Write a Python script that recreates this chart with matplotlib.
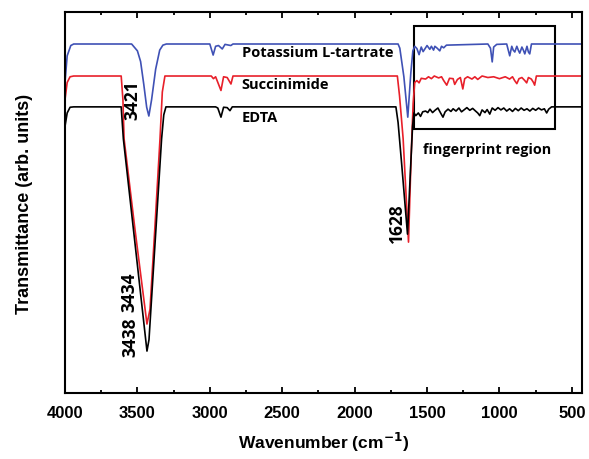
import matplotlib
matplotlib.use("Agg")
import matplotlib.pyplot as plt
from matplotlib.patches import Rectangle
from matplotlib.ticker import MultipleLocator

# スペクトルデータ
blue_wn = [4000, 3985, 3960, 3940, 3540, 3500, 3478, 3456, 3436, 3421, 3402, 3374, 3346, 3324, 3300,
           3000, 2977, 2960, 2940, 2914, 2895, 2855, 2840, 1700, 1688, 1660, 1633, 1612, 1598,
           1585, 1570, 1555, 1540, 1527, 1500, 1481, 1470, 1455, 1446, 1430, 1412, 1400, 1385, 1366,
           1080, 1062, 1050, 1040, 1019, 950, 929, 915, 905, 894, 880, 870, 860, 845, 835, 825,
           810, 800, 791, 779, 430]
blue_t = [81.5, 88.5, 91.2, 91.6, 91.6, 89.8, 87.0, 81.0, 75.0, 72.7, 77.0, 85.0, 90.0, 91.3, 91.6,
          91.6, 88.7, 91.0, 91.2, 90.3, 91.5, 91.2, 91.6, 91.6, 90.5, 83.0, 72.4, 84.0, 89.8,
          91.0, 90.4, 88.8, 90.8, 89.6, 91.2, 90.2, 91.0, 90.0, 91.0, 90.5, 89.8, 91.0, 90.6, 91.3,
          91.6, 90.5, 86.9, 90.8, 91.5, 91.6, 88.5, 91.0, 90.0, 89.5, 91.0, 90.0, 89.2, 90.8, 90.0, 89.0,
          91.0, 89.5, 89.0, 91.6, 91.6]

red_wn = [4000, 3985, 3965, 3940, 3612, 3600, 3592, 3517, 3434, 3413, 3380, 3344, 3328, 3310,
          2990, 2975, 2960, 2923, 2905, 2880, 2854, 2840, 1705, 1690, 1665, 1628, 1610, 1596,
          1585, 1570, 1555, 1540, 1510, 1490, 1470, 1450, 1420, 1400, 1385, 1364, 1345, 1320, 1309,
          1290, 1270, 1253, 1240, 1220, 1190, 1170, 1150, 1120, 1080, 1040, 1000, 960, 930, 910,
          895, 880, 865, 845, 825, 812, 800, 780, 765, 757, 745, 430]
red_t = [77.0, 81.5, 83.0, 83.2, 83.2, 77.0, 66.7, 43.0, 18.1, 22.0, 43.0, 66.7, 79.0, 83.2,
         83.2, 82.5, 83.0, 79.4, 83.0, 82.8, 81.1, 83.2, 83.2, 78.0, 66.7, 39.6, 62.0, 76.0,
         81.5, 82.0, 81.4, 82.6, 82.4, 83.0, 82.5, 83.2, 82.7, 83.0, 82.0, 80.8, 82.6, 82.5, 81.0,
         82.3, 82.8, 79.8, 82.5, 83.0, 82.4, 83.0, 82.3, 83.2, 82.8, 83.0, 82.5, 83.0, 82.4, 83.0,
         82.0, 81.2, 82.5, 82.8, 82.0, 81.4, 82.8, 82.4, 81.5, 80.8, 83.2, 83.2]

black_wn = [4000, 3985, 3965, 3940, 3612, 3597, 3520, 3434, 3420, 3380, 3333, 3318, 3303,
            2960, 2945, 2923, 2905, 2880, 2861, 2845, 1715, 1700, 1675, 1635, 1615, 1600, 1590,
            1578, 1560, 1545, 1530, 1510, 1495, 1480, 1462, 1445, 1425, 1405, 1390, 1375, 1355,
            1335, 1320, 1300, 1280, 1262, 1245, 1225, 1205, 1185, 1165, 1150, 1136, 1120, 1100,
            1085, 1067, 1050, 1030, 1010, 990, 970, 950, 930, 910, 890, 870, 850, 830, 810, 790,
            770, 750, 730, 710, 690, 674, 660, 640, 430]
black_t = [70.0, 73.5, 75.0, 75.1, 75.1, 66.7, 40.4, 11.0, 14.0, 38.2, 66.7, 73.0, 75.1,
           75.1, 74.8, 72.4, 75.0, 74.9, 74.1, 75.1, 75.1, 71.0, 60.0, 41.7, 58.0, 70.0, 73.5,
           72.8, 73.5, 72.6, 73.8, 74.0, 73.6, 74.5, 73.6, 74.2, 74.8, 73.4, 72.4, 73.8, 74.5,
           73.9, 74.6, 74.0, 74.8, 73.8, 74.3, 74.9, 74.2, 74.7, 74.0, 73.5, 72.8, 74.3, 73.6,
           74.4, 73.2, 74.8, 74.2, 74.9, 74.3, 74.8, 74.0, 74.6, 73.9, 74.7, 74.1, 74.8, 74.2, 74.6, 74.0,
           74.7, 74.2, 74.8, 74.3, 74.6, 73.5, 74.5, 75.1, 75.1]

names = ["Potassium L-tartrate", "Succinimide", "EDTA"]
name_y = [89.4, 81.1, 72.4]
peaks = ["3421", "3434", "3438", "1628"]
peak_x = [3538, 3558, 3548, 1705]
peak_y = [77.2, 26.8, 15.0, 44.9]

lab_font = "Liberation Sans"
ann_font = "Open Sans"

fig = plt.figure(figsize=(5.89, 4.60), dpi=100)
ax = fig.add_axes([65 / 589, 66 / 460, 517 / 589, 381 / 460])

ax.plot(blue_wn, blue_t, color="#3f51b5", lw=1.2)
ax.plot(red_wn, red_t, color="#e8202a", lw=1.2)
ax.plot(black_wn, black_t, color="black", lw=1.2)

# 化合物名
for n, y in zip(names, name_y):
    ax.text(2780, y, n, fontsize=10.5, fontweight="bold", family=ann_font, va="center", ha="left")

# ピーク番号 (縦書き)
for p, x, y in zip(peaks, peak_x, peak_y):
    ax.text(x, y, p, fontsize=12.5, fontweight="bold", family=ann_font, rotation=90,
            va="center", ha="center")

# fingerprint region の枠
ax.add_patch(Rectangle((618, 69.3), 1590 - 618, 96.4 - 69.3, fill=False, lw=1.5, ec="black"))
ax.text(1529, 64.0, "fingerprint region", fontsize=10.4, fontweight="bold", family=ann_font,
        va="center", ha="left")

ax.set_xlim(4000, 430)
ax.set_ylim(0, 100)
ax.xaxis.set_major_locator(MultipleLocator(500))
ax.xaxis.set_minor_locator(MultipleLocator(250))
ax.tick_params(axis="x", which="major", direction="in", length=4, width=1.3, top=True,
               pad=9, labelsize=12)
ax.tick_params(axis="x", which="minor", direction="in", length=2.5, width=1.3, top=True)
ax.tick_params(axis="y", left=False, labelleft=False)
for lab in ax.get_xticklabels():
    lab.set_fontweight("bold")
    lab.set_family(lab_font)
for s in ax.spines.values():
    s.set_linewidth(1.5)

ax.set_xlabel(r"Wavenumber (cm$^{\mathbf{-1}}$)", fontsize=12.5, fontweight="bold",
              family=lab_font, labelpad=7)
ax.set_ylabel("Transmittance (arb. units)", fontsize=13, fontweight="bold",
              family=lab_font, labelpad=23)

fig.savefig("out.png", dpi=100)
